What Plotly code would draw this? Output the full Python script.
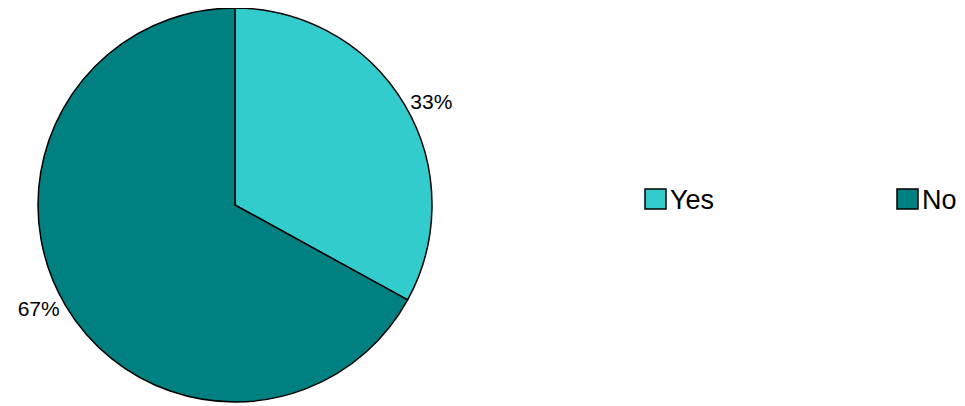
import plotly.graph_objects as go

labels = ['Yes', 'No']
values = [33, 67]
colors = ['#33CCCC', '#008080']

# the page body keeps its 8px margin, so the figure is made 8px smaller
# and every position below is given in screen pixels minus that offset
OFF = 8
W, H = 965 - OFF, 406 - OFF


def px(x):
    return (x - OFF) / W


def py(y):
    return 1 - (y - OFF) / H


fig = go.Figure(go.Pie(
    labels=labels,
    values=values,
    sort=False,
    direction='clockwise',
    rotation=0,
    marker=dict(colors=colors, line=dict(color='black', width=1.5)),
    textposition='outside',
    texttemplate='%{percent:.0%}',
    textfont=dict(family='Liberation Sans, Arial', size=21, color='black'),
    domain=dict(x=[px(38), px(432)], y=[py(402), py(8)]),
    automargin=False,
    showlegend=False,
))

# legend drawn by hand: box + label for each category
legend_x = [645, 897]
for name, col, lx in zip(labels, colors, legend_x):
    fig.add_shape(type='rect', xref='paper', yref='paper',
                  x0=px(lx), x1=px(lx + 21), y0=py(209), y1=py(189),
                  fillcolor=col, line=dict(color='black', width=1.5))
    fig.add_annotation(text=name, xref='paper', yref='paper',
                       x=px(lx + 23), y=py(200), xanchor='left', yanchor='middle',
                       showarrow=False,
                       font=dict(family='Liberation Sans, Arial', size=27, color='black'))

fig.update_layout(
    width=W,
    height=H,
    margin=dict(l=0, r=0, t=0, b=0),
    paper_bgcolor='white',
    plot_bgcolor='white',
    font=dict(family='Liberation Sans, Arial', color='black'),
)

fig.write_html('out.html')
